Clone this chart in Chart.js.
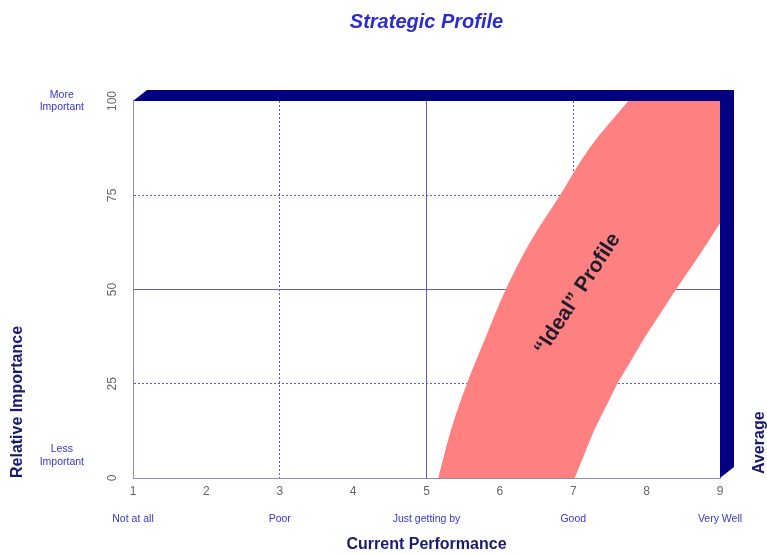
<!DOCTYPE html>
<html>
<head>
<meta charset="utf-8">
<script src="https://cdn.jsdelivr.net/npm/chart.js@4"></script>
<style>
  html, body { margin: 0; padding: 0; background: #fff; }
  #wrap { width: 767px; height: 554px; }
</style>
</head>
<body>
<div id="wrap"><canvas id="profileChart"></canvas></div>
<script>
// "Ideal" band edges (importance -> performance)
const leftImportance = [0, 12.5, 25, 37.5, 50, 62.5, 75, 87.5, 100];
const leftPerformance = [5.16, 5.33, 5.55, 5.81, 6.08, 6.41, 6.82, 7.22, 7.75];
const rightImportance = [0, 12.5, 25, 37.5, 50, 60, 67.6, 100];
const rightPerformance = [7.02, 7.28, 7.6, 7.98, 8.4, 8.75, 9, 9];

// axis ticks and descriptive labels
const perfTicks = [1, 2, 3, 4, 5, 6, 7, 8, 9];
const importanceTicks = [0, 25, 50, 75, 100];
const perfWords = ["Not at all", "Poor", "Just getting by", "Good", "Very Well"];
const perfWordValues = [1, 3, 5, 7, 9];
const importanceWords = [["Less", "Important"], ["More", "Important"]];
const importanceWordValues = [6, 100];

const FONT = "'Liberation Sans', Arial, sans-serif";
const NAVY = "#000080";
const GRID = "#5e5eb8";
const DOTS = "#5a5ad2";
const BAND = "#ff8080";

const toPoints = (ys, xs) => ys.map((y, i) => ({ x: xs[i], y: y }));

// 3D frame, band caption and right-hand label
const decorations = {
  id: "decorations",
  afterDraw(chart) {
    const { ctx, chartArea: a, scales } = chart;
    const dx = 14, dy = -11;
    ctx.save();
    ctx.fillStyle = NAVY;
    ctx.beginPath();
    ctx.moveTo(a.left, a.top);
    ctx.lineTo(a.left + dx, a.top + dy);
    ctx.lineTo(a.right + dx, a.top + dy);
    ctx.lineTo(a.right + dx, a.bottom + dy);
    ctx.lineTo(a.right, a.bottom);
    ctx.lineTo(a.right, a.top);
    ctx.closePath();
    ctx.fill();

    // caption along the band
    const cx = scales.x.getPixelForValue(7.06);
    const cy = scales.y.getPixelForValue(48.8);
    ctx.translate(cx, cy);
    ctx.rotate(-57 * Math.PI / 180);
    ctx.font = "bold 21px " + FONT;
    ctx.fillStyle = "#1c1c2c";
    ctx.textAlign = "center";
    ctx.textBaseline = "middle";
    ctx.fillText("\u201CIdeal\u201D Profile", 0, 0);
    ctx.restore();

    ctx.save();
    ctx.translate(760, a.bottom - 4);
    ctx.rotate(-Math.PI / 2);
    ctx.font = "bold 16px " + FONT;
    ctx.fillStyle = "#1a1a70";
    ctx.textAlign = "left";
    ctx.textBaseline = "middle";
    ctx.fillText("Average", 0, 0);
    ctx.restore();
  }
};

const gridColor = (solid, dotted) => (c) => {
  if (!c.tick) return "rgba(0,0,0,0)";
  if (c.tick.value === solid) return GRID;
  return dotted.includes(c.tick.value) ? DOTS : "rgba(0,0,0,0)";
};

const ctx = document.getElementById("profileChart").getContext("2d");
new Chart(ctx, {
  type: "line",
  data: {
    datasets: [
      {
        label: "ideal-left",
        data: toPoints(leftImportance, leftPerformance),
        borderWidth: 0,
        pointRadius: 0,
        cubicInterpolationMode: "monotone",
        backgroundColor: BAND,
        fill: "+1"
      },
      {
        label: "ideal-right",
        data: toPoints(rightImportance, rightPerformance),
        borderWidth: 0,
        pointRadius: 0,
        tension: 0,
        fill: false
      }
    ]
  },
  plugins: [decorations],
  options: {
    indexAxis: "y",
    responsive: true,
    maintainAspectRatio: false,
    animation: false,
    layout: { padding: { right: 47 } },
    plugins: {
      legend: { display: false },
      tooltip: { enabled: false },
      title: {
        display: true,
        text: "Strategic Profile",
        fullSize: false,
        color: "#2b2bd0",
        font: { family: FONT, size: 20, weight: "bold", style: "italic" },
        padding: { top: 10, bottom: 67 }
      }
    },
    scales: {
      x: {
        type: "linear",
        position: "bottom",
        min: 1,
        max: 9,
        afterBuildTicks: (s) => { s.ticks = perfTicks.map((v) => ({ value: v })); },
        afterFit: (s) => { s.height = 20; s.paddingLeft = 0; s.paddingRight = 0; },
        ticks: { color: "#666", padding: 6, font: { family: FONT, size: 12 } },
        grid: { drawTicks: false, color: gridColor(5, [3, 7]) },
        border: {
          color: "#8c8cb8",
          dash: (c) => (c.tick && c.tick.value === 5 ? [] : [2, 2])
        }
      },
      x2: {
        type: "linear",
        position: "bottom",
        weight: 1,
        min: 1,
        max: 9,
        afterBuildTicks: (s) => { s.ticks = perfWordValues.map((v) => ({ value: v })); },
        afterFit: (s) => { s.height = 56; s.paddingLeft = 0; s.paddingRight = 0; },
        ticks: {
          color: "#3636d6",
          padding: 7,
          font: { family: FONT, size: 10.5 },
          callback: (v) => perfWords[perfWordValues.indexOf(v)]
        },
        grid: { display: false },
        border: { display: false },
        title: {
          display: true,
          text: "Current Performance",
          color: "#1a1a70",
          font: { family: FONT, size: 16, weight: "bold" },
          padding: { top: 0, bottom: 0 }
        }
      },
      y: {
        type: "linear",
        position: "left",
        min: 0,
        max: 100,
        afterBuildTicks: (s) => { s.ticks = importanceTicks.map((v) => ({ value: v })); },
        afterFit: (s) => { s.width = 33; s.paddingTop = 0; s.paddingBottom = 0; },
        ticks: {
          color: "#666",
          padding: 10,
          minRotation: 90,
          maxRotation: 90,
          crossAlign: "center",
          font: { family: FONT, size: 12 }
        },
        grid: { drawTicks: false, color: gridColor(50, [25, 75]) },
        border: {
          color: "#8c8cb8",
          dash: (c) => (c.tick && c.tick.value === 50 ? [] : [2, 2])
        }
      },
      y2: {
        type: "linear",
        position: "left",
        weight: 1,
        min: 0,
        max: 100,
        afterBuildTicks: (s) => { s.ticks = importanceWordValues.map((v) => ({ value: v })); },
        afterFit: (s) => { s.width = 100; s.paddingTop = 0; s.paddingBottom = 0; },
        ticks: {
          color: "#3636d6",
          padding: 8,
          crossAlign: "center",
          font: { family: FONT, size: 10.5 },
          callback: (v) => importanceWords[importanceWordValues.indexOf(v)]
        },
        grid: { display: false },
        border: { display: false },
        title: {
          display: true,
          text: "Relative Importance",
          align: "start",
          color: "#1a1a70",
          font: { family: FONT, size: 16, weight: "bold" },
          padding: { top: 8, bottom: 0 }
        }
      }
    }
  }
});
</script>
</body>
</html>
